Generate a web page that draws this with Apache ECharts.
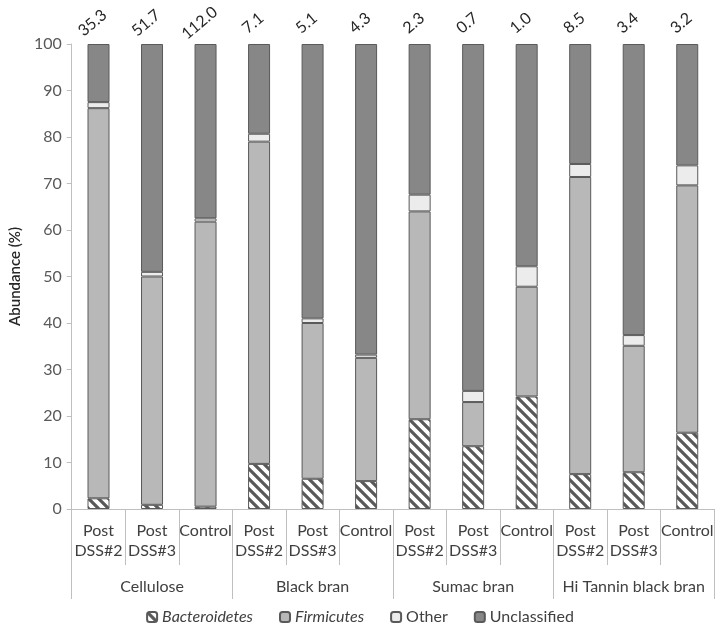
<!DOCTYPE html>
<html>
<head>
<meta charset="utf-8">
<script src="https://cdn.jsdelivr.net/npm/echarts@6/dist/echarts.min.js"></script>
<style>html,body{margin:0;padding:0;background:#fff}#c{width:720px;height:631px}</style>
</head>
<body>
<div id="c"></div>
<script>
const categories = ["Post\nDSS#2","Post\nDSS#3","Control","Post\nDSS#2","Post\nDSS#3","Control","Post\nDSS#2","Post\nDSS#3","Control","Post\nDSS#2","Post\nDSS#3","Control"];
const groups = ["Cellulose","Black bran","Sumac bran","Hi Tannin black bran"];
const bacteroidetes = [2.3, 0.9, 0.5, 9.7, 6.5, 6.0, 19.3, 13.5, 24.2, 7.5, 7.9, 16.4];
const firmicutes    = [83.9, 49.1, 61.3, 69.3, 33.5, 26.5, 44.7, 9.5, 23.6, 63.9, 27.2, 53.2];
const other         = [1.3, 1.0, 0.7, 1.7, 1.0, 0.7, 3.6, 2.4, 4.4, 2.8, 2.3, 4.3];
const unclassified  = [12.5, 49.0, 37.5, 19.3, 59.0, 66.8, 32.4, 74.6, 47.8, 25.8, 62.6, 26.1];
const topLabels = ["35.3","51.7","112.0","7.1","5.1","4.3","2.3","0.7","1.0","8.5","3.4","3.2"];
const yTicks = [0,10,20,30,40,50,60,70,80,90,100];

function makeHatch(){
  const c=document.createElement('canvas'); c.width=c.height=10;
  const g=c.getContext('2d');
  g.fillStyle='#fff'; g.fillRect(0,0,10,10);
  g.strokeStyle='#595959'; g.lineWidth=3.2; g.lineCap='square';
  g.beginPath();
  g.moveTo(-3,-3); g.lineTo(13,13);
  g.moveTo(-3,7); g.lineTo(3,13);
  g.moveTo(7,-3); g.lineTo(13,3);
  g.stroke();
  return c;
}
const hatch = {image: makeHatch(), repeat: 'repeat'};
const FONT = 'Lato, "Liberation Sans", sans-serif';
const border = {borderColor:'#5a5a5a', borderWidth:1};

const chart = echarts.init(document.getElementById('c'), null, {renderer:'canvas'});
chart.setOption({
  animation:false,
  textStyle:{fontFamily:FONT},
  grid:{left:70, right:6, top:44, bottom:122, containLabel:false},
  legend:{
    bottom:1, left:'center', itemWidth:10, itemHeight:10, itemGap:26,
    textStyle:{fontSize:16, color:'#404040', fontFamily:FONT},
    data:[
      {name:'Bacteroidetes', textStyle:{fontStyle:'italic'}},
      {name:'Firmicutes', textStyle:{fontStyle:'italic'}},
      {name:'Other'},
      {name:'Unclassified'}
    ]
  },
  xAxis:[
    {type:'category', data:categories, position:'bottom',
     axisLine:{lineStyle:{color:'#bfbfbf'}},
     axisTick:{show:true, length:56, interval:0, lineStyle:{color:'#bfbfbf'}},
     axisLabel:{interval:0, fontSize:16, lineHeight:20, color:'#404040', margin:12, fontFamily:FONT}},
    {type:'category', data:groups, position:'bottom',
     axisLine:{show:false},
     axisTick:{show:true, length:90, interval:0, lineStyle:{color:'#bfbfbf'}},
     axisLabel:{interval:0, fontSize:16, color:'#404040', margin:70, fontFamily:FONT}}
  ],
  yAxis:{type:'value', min:0, max:100, interval:10,
    name:'Abundance (%)', nameLocation:'middle', nameGap:47, nameRotate:90,
    nameTextStyle:{fontSize:15, color:'#262626', fontWeight:600, fontFamily:FONT},
    axisLine:{show:true, lineStyle:{color:'#bfbfbf'}},
    axisTick:{show:true, length:5, lineStyle:{color:'#bfbfbf'}},
    splitLine:{show:false},
    axisLabel:{fontSize:16, color:'#595959', margin:10, fontFamily:FONT,
      formatter:(v)=> yTicks.includes(v) ? String(v) : ''}
  },
  series:[
    {name:'Bacteroidetes', type:'bar', stack:'t', barWidth:22, data:bacteroidetes,
     itemStyle:Object.assign({color:hatch}, border)},
    {name:'Firmicutes', type:'bar', stack:'t', barWidth:22, data:firmicutes,
     itemStyle:Object.assign({color:'#b8b8b8'}, border)},
    {name:'Other', type:'bar', stack:'t', barWidth:22, data:other,
     itemStyle:Object.assign({color:'#ececec'}, border)},
    {name:'Unclassified', type:'bar', stack:'t', barWidth:22, data:unclassified,
     itemStyle:Object.assign({color:'#878787'}, border),
     label:{show:true, position:'top', distance:5,
       fontSize:16, color:'#262626', fontFamily:FONT,
       formatter:(p)=>topLabels[p.dataIndex]},
     labelLayout:function(p){
       const r = p.rect;
       return {x: r.x + r.width/2 - 6, y: Math.min(r.y, r.y + r.height) - 21,
               rotate:40, align:'center', verticalAlign:'middle'};
     }}
  ]
});
</script>
</body>
</html>
